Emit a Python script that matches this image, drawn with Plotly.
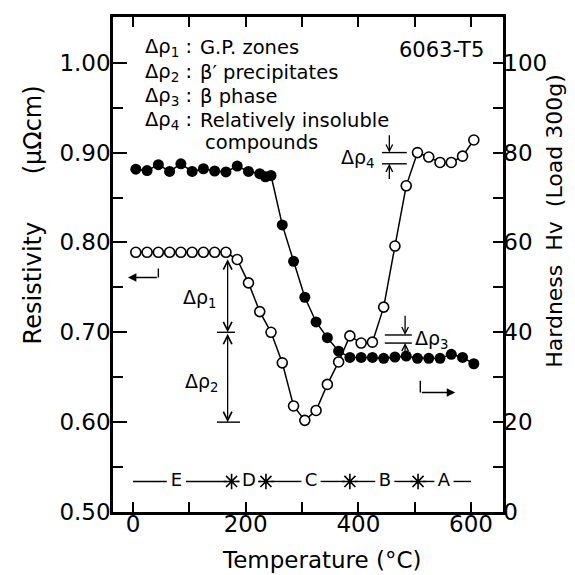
import plotly.graph_objects as go

# resistivity (open circles, left axis)
res_temp = [5, 25, 45, 65, 85, 105, 125, 145, 165, 185, 205, 225, 245, 265, 285, 305,
            325, 345, 365, 385, 405, 425, 445, 465, 485, 505, 525, 545, 565, 585, 605]
res_val = [0.789, 0.789, 0.789, 0.789, 0.789, 0.789, 0.789, 0.789, 0.789, 0.781, 0.755,
           0.723, 0.700, 0.666, 0.618, 0.602, 0.613, 0.642, 0.667, 0.696, 0.688, 0.689,
           0.728, 0.796, 0.863, 0.900, 0.895, 0.889, 0.889, 0.896, 0.914]

# hardness (filled circles, right axis)
hv_temp = [5, 25, 45, 65, 85, 105, 125, 145, 165, 185, 205, 225, 235, 245, 265, 285, 305,
           325, 345, 365, 385, 405, 425, 445, 465, 485, 505, 525, 545, 565, 585, 605]
hv_val = [76.3, 76.0, 77.3, 75.8, 77.5, 75.8, 76.4, 75.9, 75.7, 77.0, 75.8, 75.3, 74.6, 74.9,
          63.9, 55.8, 47.8, 42.3, 38.8, 35.8, 34.4, 34.4, 34.4, 34.2, 34.5, 34.7, 34.2,
          34.2, 34.2, 35.1, 34.4, 33.0]

x_ticks = [0, 100, 200, 300, 400, 500, 600]
x_text = ["0", "", "200", "", "400", "", "600"]
res_ticks = [0.50, 0.60, 0.70, 0.80, 0.90, 1.00]
res_text = ["0.50", "0.60", "0.70", "0.80", "0.90", "1.00"]
res_minor = [0.55, 0.65, 0.75, 0.85, 0.95]
hv_ticks = [0, 20, 40, 60, 80, 100]
hv_text = ["0", "20", "40", "60", "80", "100"]
hv_minor = [10, 30, 50, 70, 90]

# stages along the bottom
stage_names = ["E", "D", "C", "B", "A"]
stage_label_t = [77, 206, 316, 447, 552]
stage_bounds = [175, 236, 385, 506]
stage_start, stage_end = 0, 600
stage_level = 0.534

# delta rho marks
d12_t = 168
d1_top, d_mid, d2_bot = 0.783, 0.70, 0.60
d3_lines = [0.697, 0.688]
d4_lines = [0.900, 0.8875]

FONT = "DejaVu Sans"
BLACK = "black"

# plot area in screen pixels; the page body adds an 8px margin
OFF = 8
W = 575 - OFF
L, R, T, B = 113, 503, 14, 512


def paper(xp, yp):
    return (xp - L) / (R - L), (B - yp) / (B - T)


fig = go.Figure()

fig.add_trace(go.Scatter(x=hv_temp, y=hv_val, yaxis="y2", mode="lines+markers",
                         line=dict(color=BLACK, width=1.5),
                         marker=dict(symbol="circle", size=11, color=BLACK),
                         showlegend=False))
fig.add_trace(go.Scatter(x=res_temp, y=res_val, mode="lines+markers",
                         line=dict(color=BLACK, width=1.5),
                         marker=dict(symbol="circle", size=10, color="white",
                                     line=dict(color=BLACK, width=1.6)),
                         showlegend=False))

# stage bar: dashes with gaps around labels and boundary stars
gaps = [(t, 17) for t in stage_label_t] + [(t, 9) for t in stage_bounds]
gaps.sort()
seg_x, seg_y = [], []
cur = stage_start
for c, hw in gaps:
    if c - hw > cur + 2:
        seg_x += [cur, c - hw, None]
        seg_y += [stage_level, stage_level, None]
    cur = c + hw
if stage_end > cur:
    seg_x += [cur, stage_end]
    seg_y += [stage_level, stage_level]
fig.add_trace(go.Scatter(x=seg_x, y=seg_y, mode="lines", line=dict(color=BLACK, width=1.4),
                         showlegend=False, hoverinfo="skip"))
fig.add_trace(go.Scatter(x=stage_bounds, y=[stage_level] * len(stage_bounds), mode="markers",
                         marker=dict(symbol="asterisk-open", size=13, color=BLACK,
                                     line=dict(color=BLACK, width=1.6)),
                         showlegend=False))
fig.add_trace(go.Scatter(x=stage_label_t, y=[stage_level] * len(stage_label_t), mode="text",
                         text=stage_names, textfont=dict(family=FONT, size=18, color=BLACK),
                         showlegend=False))

ann = []


def arrow(x, y, ax, ay, head=5, side="end", size=1.3):
    ann.append(dict(x=x, y=y, ax=ax, ay=ay, xref="x", yref="y", axref="x", ayref="y",
                    showarrow=True, arrowhead=head, startarrowhead=head, arrowside=side,
                    arrowsize=size, startarrowsize=size, arrowwidth=1.3,
                    arrowcolor=BLACK, text=""))


def text(xp, yp, s, size=19.5, anchor="left", angle=0):
    px_, py_ = paper(xp, yp)
    ann.append(dict(x=px_, y=py_, xref="paper", yref="paper", text=s, showarrow=False,
                    xanchor=anchor, yanchor="middle", textangle=angle,
                    font=dict(family=FONT, size=size, color=BLACK)))


shapes = []


def hline(x0, x1, y):
    shapes.append(dict(type="line", xref="x", yref="y", x0=x0, x1=x1, y0=y, y1=y,
                       line=dict(color=BLACK, width=1.4)))


def vline(x, y0, y1):
    shapes.append(dict(type="line", xref="x", yref="y", x0=x, x1=x, y0=y0, y1=y1,
                       line=dict(color=BLACK, width=1.4)))


# delta rho 1 and 2
arrow(d12_t, d_mid, d12_t, d1_top, side="end+start")
arrow(d12_t, d2_bot, d12_t, d_mid, side="end+start")
hline(149, 181, d_mid)
hline(149, 190, d2_bot)
text(200, 297, "Δρ<sub>1</sub>", size=19, anchor="center")
text(202, 382, "Δρ<sub>2</sub>", size=19, anchor="center")

# delta rho 3
hline(447, 495, d3_lines[0])
hline(447, 495, d3_lines[1])
arrow(483, d3_lines[0], 483, 0.720, size=1.0)
arrow(483, d3_lines[1], 483, 0.677, size=1.0)
text(413, 338, "Δρ<sub>3</sub>", size=19)

# delta rho 4
hline(442, 486, d4_lines[0])
hline(442, 486, d4_lines[1])
arrow(455, d4_lines[0], 455, 0.921, size=1.0)
arrow(455, d4_lines[1], 455, 0.869, size=1.0)
text(377, 156, "Δρ<sub>4</sub>", size=19, anchor="right")

# axis pointers
vline(45, 0.761, 0.771)
arrow(-9, 0.761, 45, 0.761, head=2, size=1.3)
vline(510, 0.633, 0.646)
arrow(572, 0.633, 510, 0.633, head=2, size=1.3)

# key in the upper left
keys = [("Δρ<sub>1</sub> :", "G.P. zones", 45),
        ("Δρ<sub>2</sub> :", "β′ precipitates", 70),
        ("Δρ<sub>3</sub> :", "β phase", 94),
        ("Δρ<sub>4</sub> :", "Relatively insoluble", 118)]
for k, v, yp in keys:
    text(194, yp, k, anchor="right")
    text(198, yp, v)
text(203, 140, "compounds")
text(397, 47, "6063-T5", size=21)

# axis titles
text(33, 282, "Resistivity", size=24, anchor="center", angle=-90)
text(33, 128, "(μΩcm)", size=24, anchor="center", angle=-90)
text(555, 220, "Hardness\u00a0\u00a0Hv\u00a0\u00a0(Load\u00a0300g)", size=22, anchor="center", angle=-90)
text(322, 560, "Temperature (°C)", size=23, anchor="center")

tickfont = dict(family=FONT, size=23, color=BLACK)
fig.update_layout(
    width=W, height=W, autosize=False,
    margin=dict(l=L - OFF, r=W - (R - OFF), t=T - OFF, b=W - (B - OFF)),
    paper_bgcolor="white", plot_bgcolor="white",
    annotations=ann, shapes=shapes,
    xaxis=dict(range=[-35.5, 656.8], tickvals=x_ticks, ticktext=x_text, ticks="inside",
               ticklen=10, tickwidth=2, tickcolor=BLACK, showline=True, linecolor=BLACK,
               linewidth=2.5, mirror="ticks", showgrid=False, zeroline=False,
               tickfont=tickfont, ticklabelstandoff=-10),
    yaxis=dict(range=[0.5, 0.5 + 498 / 904], tickvals=res_ticks, ticktext=res_text,
               ticks="inside", ticklen=14, tickwidth=2, tickcolor=BLACK, showline=True,
               linecolor=BLACK, linewidth=2.5, showgrid=False, zeroline=False,
               tickfont=tickfont, ticklabelstandoff=-5,
               minor=dict(tickvals=res_minor, ticks="inside", ticklen=10, tickwidth=2,
                          tickcolor=BLACK, showgrid=False)),
    yaxis2=dict(range=[0, 498 / 4.52], overlaying="y", side="right", tickvals=hv_ticks,
                ticktext=hv_text, ticks="inside", ticklen=10, tickwidth=2, tickcolor=BLACK,
                showline=True, linecolor=BLACK, linewidth=2.5, showgrid=False,
                zeroline=False, tickfont=tickfont, ticklabelstandoff=-7,
                minor=dict(tickvals=hv_minor, ticks="inside", ticklen=10, tickwidth=2,
                           tickcolor=BLACK, showgrid=False)),
)

fig.write_html("out.html")
